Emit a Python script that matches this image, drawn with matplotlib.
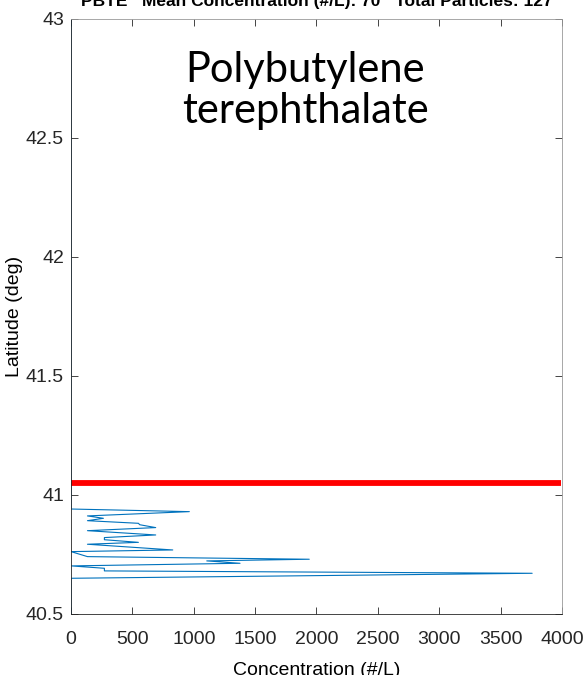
import matplotlib
matplotlib.use("Agg")
import matplotlib.pyplot as plt
import numpy as np

# concentration trace (#/L) vs latitude (deg)
conc = [0, 0, 964, 134, 264, 134, 549, 560, 690, 134, 690, 272, 272, 549, 134,
        829, 0, 134, 1941, 1106, 1377, 0, 272, 272, 3757, 0, 0]
lat = [43.0, 40.941, 40.930, 40.912, 40.902, 40.892, 40.881, 40.875, 40.863,
       40.850, 40.832, 40.821, 40.812, 40.801, 40.793, 40.769, 40.762, 40.741,
       40.730, 40.723, 40.713, 40.702, 40.692, 40.681, 40.671, 40.650, 40.5]
front_lat = 41.05

title = "PBTE   Mean Concentration (#/L): 70   Total Particles: 127"
narrow = ["DejaVu Sans Condensed", "Liberation Sans Narrow", "Liberation Sans", "DejaVu Sans"]

fig = plt.figure(figsize=(5.84, 6.75), dpi=100)
ax = fig.add_axes([0.1216, 0.0904, 0.8407, 0.8815])

ax.plot(conc, lat, color="#0072BD", lw=0.8)
ax.plot([0, 3990], [front_lat, front_lat], color="red", lw=4.2, solid_capstyle="butt")

ax.set_xlim(0, 4000)
ax.set_ylim(40.5, 43)
ax.set_xticks(np.arange(0, 4001, 500))
ax.set_yticks([40.5, 41, 41.5, 42, 42.5, 43])
ax.set_yticklabels(["40.5", "41", "41.5", "42", "42.5", "43"])
ax.tick_params(direction="in", top=True, right=True, length=5, width=0.6,
               colors="#262626", labelsize=14)
ax.tick_params(axis="x", pad=12)
ax.tick_params(axis="y", pad=5)
for lab in ax.get_xticklabels() + ax.get_yticklabels():
    lab.set_family(narrow)
for s in ax.spines.values():
    s.set_color("#262626")
    s.set_linewidth(0.6)
ax.spines["top"].set_color("#999999")
ax.spines["right"].set_color("#999999")

ax.set_title(title, fontsize=12.5, fontweight="bold", family=narrow, pad=9)
ax.set_xlabel("Concentration (#/L)", fontsize=14, family=narrow, labelpad=10)
ax.set_ylabel("Latitude (deg)", fontsize=14, family=["Liberation Sans", "DejaVu Sans"], labelpad=2)

ax.text(0.477, 0.947, "Polybutylene\nterephthalate", transform=ax.transAxes,
        ha="center", va="top", fontsize=30, family=["Lato", "Open Sans", "DejaVu Sans"],
        linespacing=1.1)

fig.savefig("out.png", dpi=100)
